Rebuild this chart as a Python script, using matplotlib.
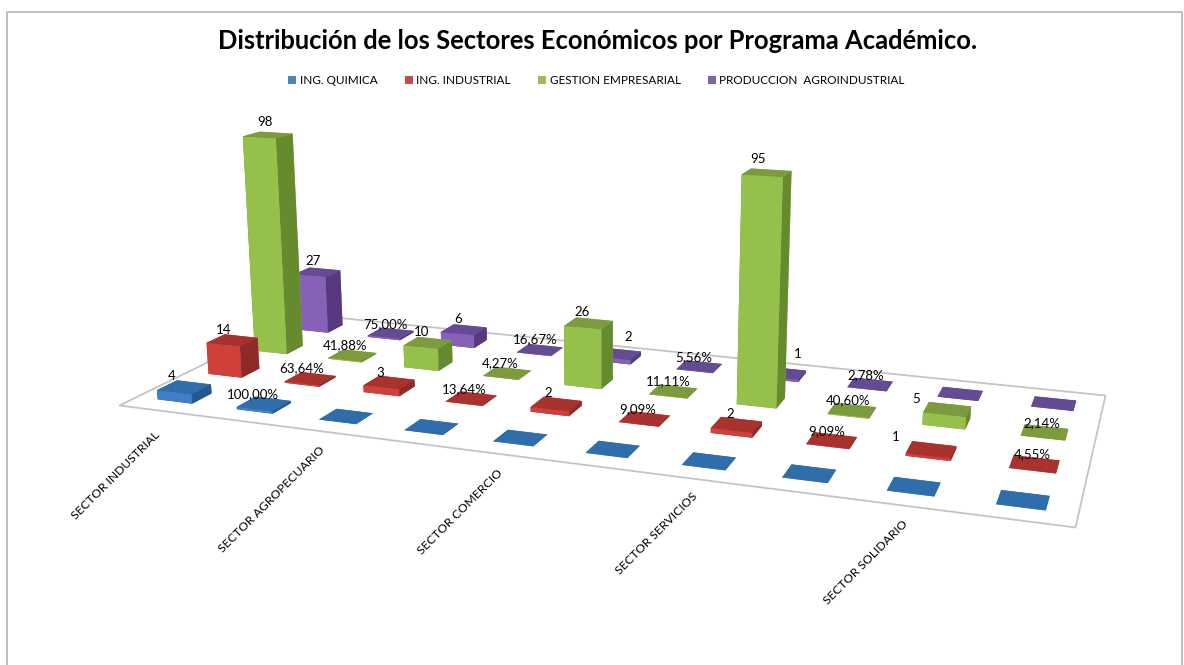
import numpy as np
import matplotlib
matplotlib.use('Agg')
import matplotlib.pyplot as plt
from matplotlib.patches import Patch, Rectangle
from mpl_toolkits.mplot3d.art3d import Poly3DCollection

plt.rcParams['font.family'] = ['Lato', 'DejaVu Sans']

categories = ['SECTOR INDUSTRIAL', 'SECTOR AGROPECUARIO', 'SECTOR COMERCIO',
              'SECTOR SERVICIOS', 'SECTOR SOLIDARIO']
series = ['ING. QUIMICA', 'ING. INDUSTRIAL', 'GESTION EMPRESARIAL',
          'PRODUCCION  AGROINDUSTRIAL']

# count / share pairs for each sector, percentages stored as fractions of one
quimica = [4, 1.0, 0, 0, 0, 0, 0, 0, 0, 0]
industrial = [14, 0.6364, 3, 0.1364, 2, 0.0909, 2, 0.0909, 1, 0.0455]
gestion = [98, 0.4188, 10, 0.0427, 26, 0.1111, 95, 0.4060, 5, 0.0214]
produccion = [27, 0.75, 6, 0.1667, 2, 0.0556, 1, 0.0278, 0, 0]

quimica_lbl = ['4', '100,00%']
industrial_lbl = ['14', '63,64%', '3', '13,64%', '2', '9,09%', '2', '9,09%', '1', '4,55%']
gestion_lbl = ['98', '41,88%', '10', '4,27%', '26', '11,11%', '95', '40,60%', '5', '2,14%']
produccion_lbl = ['27', '75,00%', '6', '16,67%', '2', '5,56%', '1', '2,78%']

# where the labels sit on the page, in pixels
quimica_pos = [(172, 376), (253, 394)]
industrial_pos = [(224, 330), (302, 368), (380, 373), (464, 389), (548, 393),
                  (638, 409), (730, 414), (827, 431), (896, 437), (1032, 454)]
gestion_pos = [(265, 122), (345, 345), (422, 332), (500, 363), (582, 312),
               (668, 381), (758, 159), (848, 400), (916, 399), (1042, 423)]
produccion_pos = [(313, 261), (385, 324), (458, 319), (535, 339), (628, 337),
                  (694, 357), (798, 354), (866, 375)]
cat_label_end = [(158, 433), (323, 448), (501, 471), (695, 495), (906, 522)]

# front, side and top shades per series
shades = [('#3f7fc4', '#27578f', '#2f6eaa'),
          ('#d0403a', '#8e2a28', '#a8322e'),
          ('#96c04c', '#668a2e', '#7c9a3e'),
          ('#8561b8', '#56397f', '#654a94')]

# camera calibration: floor corners in pixels and where verticals converge
floor_px = np.array([(119, 405), (1075, 527), (1105, 395), (305, 314)], float)
floor_xy = np.array([(0, 0), (10, 0), (10, 4), (0, 4)], float)
vert_vp = np.array([604., 6617.])


def camera():
    a, b = [], []
    for (x, y), (u, v) in zip(floor_xy, floor_px):
        a.append([x, y, 1, 0, 0, 0, -u * x, -u * y])
        a.append([0, 0, 0, x, y, 1, -v * x, -v * y])
        b += [u, v]
    h = np.append(np.linalg.solve(np.array(a), np.array(b)), 1).reshape(3, 3)
    # vertical scale: a 98 high bar at the first green slot reaches y=135
    w0 = h[2] @ np.array([0.5, 2.5, 1])
    y0 = h[1] @ np.array([0.5, 2.5, 1]) / w0
    tau = (y0 - 135) / (vert_vp[1] - 135)
    s = -tau * w0 / 98
    m = np.zeros((4, 4))
    m[0] = [h[0, 0], h[0, 1], s * vert_vp[0], h[0, 2]]
    m[1] = [h[1, 0], h[1, 1], s * vert_vp[1], h[1, 2]]
    m[2] = [0, 0, 0, -1]
    m[3] = [h[2, 0], h[2, 1], s, h[2, 2]]
    return m


fig = plt.figure(figsize=(11.84, 6.65), dpi=100)
# square 3d axes running off the bottom so that pixel coordinates stay simple
ax = fig.add_axes([0, 1 - 1184 / 665, 1, 1184 / 665], projection='3d')
ax.set_axis_off()
ax.computed_zorder = False
ax.patch.set_visible(False)
M = camera()
ax.get_proj = lambda: M
ax.viewLim.intervalx = (0, 1184)
ax.viewLim.intervaly = (1184, 0)

floor = Poly3DCollection([[(0, 0, 0), (10, 0, 0), (10, 4, 0), (0, 4, 0)]],
                         facecolor='white', edgecolor='#c4c4c4', linewidth=1.3, zorder=1)
ax.add_collection3d(floor)

bar_w = 0.44
bar_d = 0.38
all_values = [quimica, industrial, gestion, produccion]
order = 2
for row in range(3, -1, -1):
    front, side, top = shades[row]
    for col, val in enumerate(all_values[row]):
        x = col + (1 - bar_w) / 2
        y = row + (1 - bar_d) / 2
        ax.bar3d(x, y, 0, bar_w, bar_d, val, shade=False, zorder=order,
                 color=[top, top, front, front, side, side])
        order += 1

for labels, places in [(quimica_lbl, quimica_pos), (industrial_lbl, industrial_pos),
                       (gestion_lbl, gestion_pos), (produccion_lbl, produccion_pos)]:
    for lbl, (px, py) in zip(labels, places):
        ax.text2D(px, py, lbl, transform=ax.transData, ha='center', va='center',
                  fontsize=9.5, color='black', zorder=200)

for cat, (px, py) in zip(categories, cat_label_end):
    ax.text2D(px, py, cat, transform=ax.transData, ha='right', va='center', rotation=45,
              rotation_mode='anchor', fontsize=8.7, color='black', zorder=200)

fig.add_artist(Rectangle((6.5 / 1184, -0.01), 1175.5 / 1184, 1 - 12 / 665 + 0.01,
                         transform=fig.transFigure, facecolor='none',
                         edgecolor='#b4b4b4', linewidth=1.2))
fig.text(598 / 1184, 1 - 41 / 665, 'Distribución de los Sectores Económicos por Programa Académico.',
         ha='center', va='center', fontsize=18.4, fontweight='bold', color='black')

handles = [Patch(facecolor=c, label=n) for c, n in
           zip(['#4f81bd', '#c0504d', '#9bbb59', '#8064a2'], series)]
fig.legend(handles=handles, loc='center', bbox_to_anchor=(596.5 / 1184, 1 - 81 / 665), ncol=4,
           frameon=False, fontsize=8.5, handlelength=0.68, handleheight=0.68, handletextpad=0.3,
           columnspacing=2.3)

fig.savefig('out.png', dpi=100)
